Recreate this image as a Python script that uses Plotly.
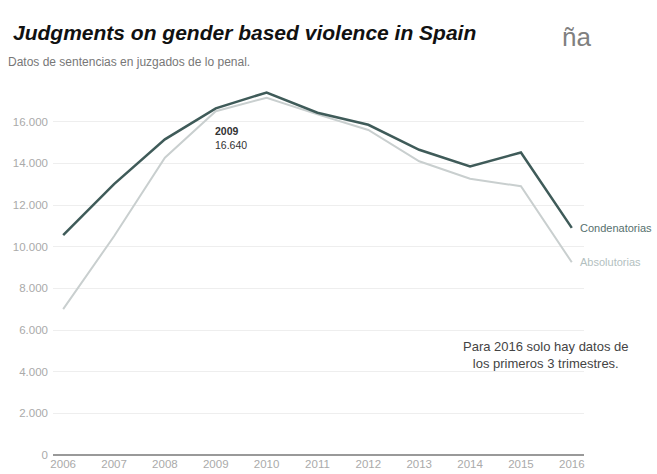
import plotly.graph_objects as go

years = [2006, 2007, 2008, 2009, 2010, 2011, 2012, 2013, 2014, 2015, 2016]
condenatorias = [10550, 13000, 15150, 16640, 17400, 16430, 15850, 14650, 13850, 14520, 10900]
absolutorias = [7000, 10500, 14270, 16500, 17150, 16350, 15600, 14100, 13260, 12900, 9250]
y_ticks = [0, 2000, 4000, 6000, 8000, 10000, 12000, 14000, 16000]
y_tick_text = ["0", "2.000", "4.000", "6.000", "8.000", "10.000", "12.000", "14.000", "16.000"]

FONT = "Liberation Sans, Arial, sans-serif"
DARK = "#3f5b59"
LIGHT = "#c9cfcf"

fig = go.Figure()
fig.add_trace(go.Scatter(x=years, y=absolutorias, mode="lines", name="Absolutorias",
                         line=dict(color=LIGHT, width=2)))
fig.add_trace(go.Scatter(x=years, y=condenatorias, mode="lines", name="Condenatorias",
                         line=dict(color=DARK, width=2.5)))

# series labels at the end of each line
fig.add_annotation(x=years[-1], y=condenatorias[-1], text="Condenatorias", showarrow=False,
                   xanchor="left", xshift=6, font=dict(family=FONT, size=11, color="#56706e"))
fig.add_annotation(x=years[-1], y=absolutorias[-1], text="Absolutorias", showarrow=False,
                   xanchor="left", xshift=6, font=dict(family=FONT, size=11, color="#b3bfbf"))

# highlighted value for 2009
fig.add_annotation(x=2009, y=condenatorias[3], text="<b>2009</b><br>16.640", showarrow=False,
                   xanchor="left", yanchor="top", xshift=-3, yshift=-15, align="left",
                   font=dict(family=FONT, size=10.5, color="#333333"))

fig.add_annotation(x=2015.5, y=4800, text="Para 2016 solo hay datos de<br>los primeros 3 trimestres.",
                   showarrow=False, xanchor="center", align="center",
                   font=dict(family=FONT, size=13, color="#444444"))

fig.add_annotation(xref="paper", yref="paper", x=-0.079, y=1.0, yshift=48, xanchor="left",
                   yanchor="middle",
                   text="<b><i>Judgments on gender based violence in Spain</i></b>", showarrow=False,
                   font=dict(family=FONT, size=21, color="#111111"))
fig.add_annotation(xref="paper", yref="paper", x=-0.088, y=1.0, yshift=18, xanchor="left",
                   yanchor="middle",
                   text="Datos de sentencias en juzgados de lo penal.", showarrow=False,
                   font=dict(family=FONT, size=12, color="#777777"))
fig.add_annotation(xref="paper", yref="paper", x=0.955, y=1.0, yshift=43, xanchor="left",
                   yanchor="middle",
                   text="ña", showarrow=False,
                   font=dict(family=FONT, size=26, color="#808080"))

fig.update_layout(
    width=657, height=474,
    margin=dict(l=53, r=73, t=80, b=19),
    paper_bgcolor="white", plot_bgcolor="white",
    showlegend=False,
    xaxis=dict(range=[2005.8, 2016.24], tickvals=years, ticktext=[str(y) for y in years],
               showgrid=False, zeroline=False, showline=False, ticks="",
               tickfont=dict(family=FONT, size=11.5, color="#aaaaaa"), automargin=False),
    yaxis=dict(range=[0, 18000], tickvals=y_ticks, ticktext=y_tick_text,
               showgrid=True, gridcolor="#eeeeee", gridwidth=1, zeroline=True,
               zerolinecolor="#999999", zerolinewidth=2, showline=False, ticks="",
               ticklabelstandoff=4,
               tickfont=dict(family=FONT, size=11.5, color="#aaaaaa"), automargin=False),
)

fig.write_html("out.html")
